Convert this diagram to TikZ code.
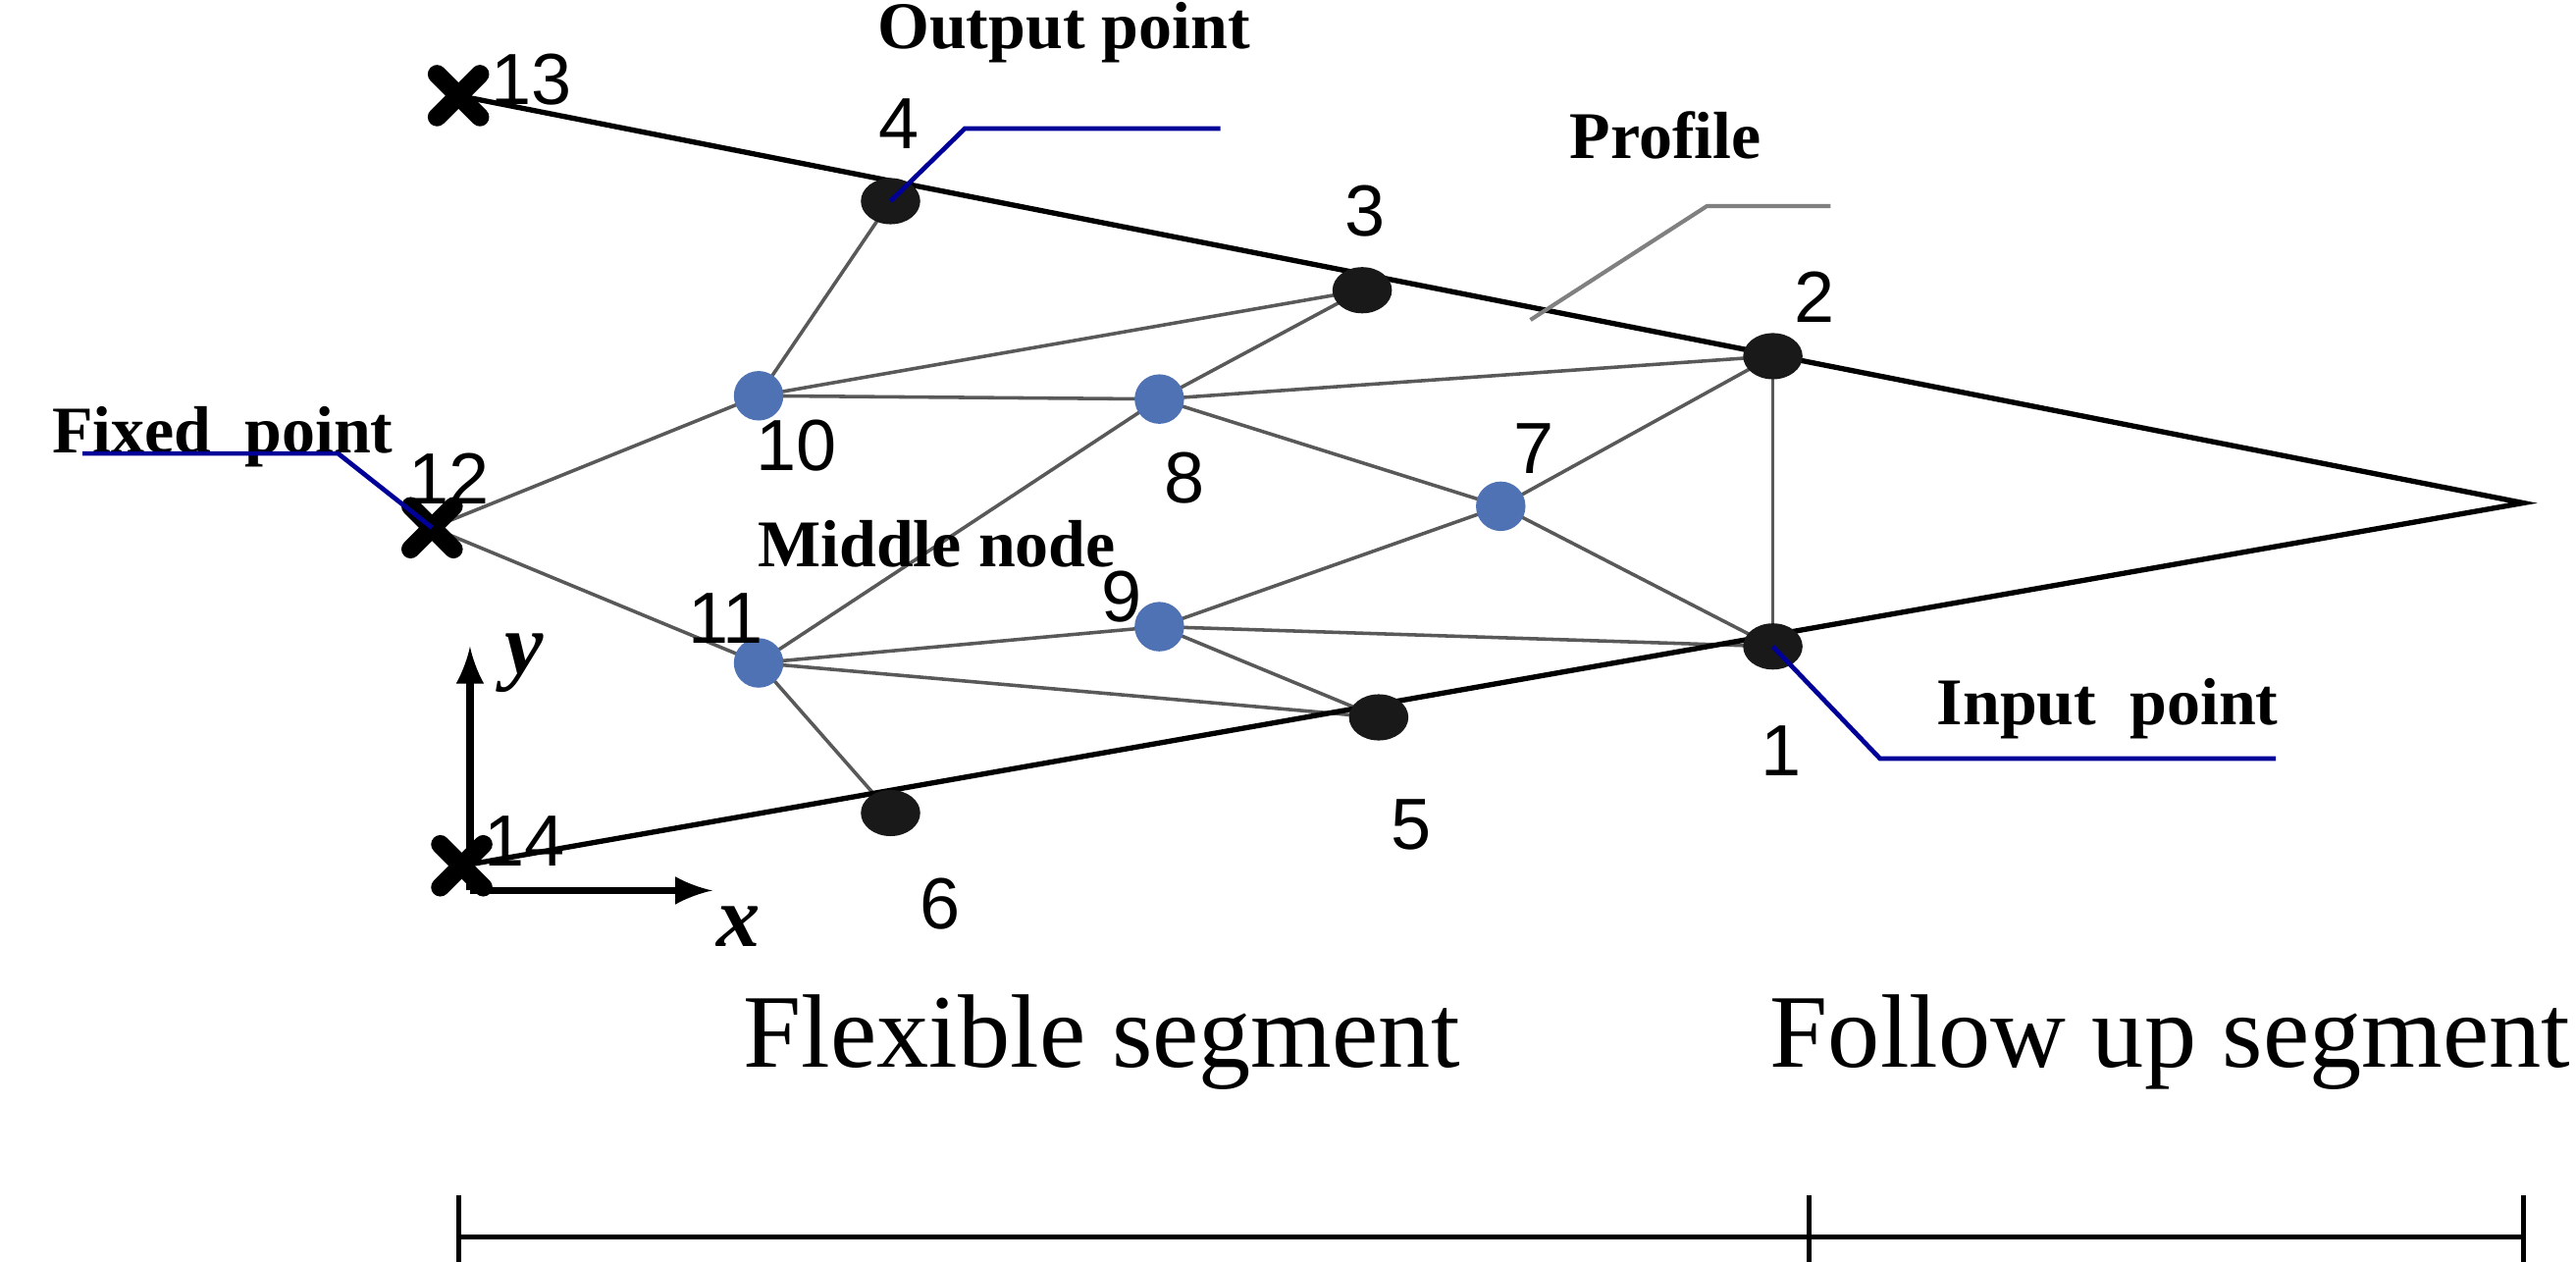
\documentclass[tikz,border=0pt]{standalone}
\usetikzlibrary{shapes.geometric}
\usepackage{fontspec}
\setmainfont{Liberation Serif}
\newfontfamily\numf{Liberation Sans}
\begin{document}
\begin{tikzpicture}[x=0.01cm,y=-0.01cm,
  blk/.style={ellipse,fill=black!90,inner sep=0pt,minimum width=0.36cm,minimum height=0.28cm},
  num/.style={font=\numf\fontsize{12.5}{13}\selectfont},
  lab/.style={font=\fontsize{11.5}{12}\selectfont\bfseries},
  big/.style={font=\fontsize{18}{18}\selectfont},
  mem/.style={gray!70!black,line width=0.6pt},
  xm/.style={line width=3.2pt,line cap=round},
  call/.style={blue!60!black,line width=0.8pt}]
\useasboundingbox (0,0) rectangle (1562,765);
\definecolor{nb}{RGB}{79,114,181}
\tikzset{blu/.style={circle,fill=nb,inner sep=0pt,minimum size=0.3cm}}
\coordinate (p13) at (278,58);
\coordinate (p14) at (280,525);
\coordinate (p12) at (262,320);
\coordinate (tip) at (1530,305);
\coordinate (n4) at (540,122);
\coordinate (n3) at (826,176);
\coordinate (n2) at (1075,216);
\coordinate (n1) at (1075,392);
\coordinate (n5) at (836,435);
\coordinate (n6) at (540,493);
\coordinate (n10) at (460,240);
\coordinate (n8) at (703,242);
\coordinate (n7) at (910,307);
\coordinate (n9) at (703,380);
\coordinate (n11) at (460,402);
% members
\foreach \a/\b in {p12/n10,p12/n11,n10/n4,n10/n3,n10/n8,n8/n3,n8/n2,n8/n7,n8/n11,n7/n2,n7/n1,n9/n7,n9/n1,n9/n11,n9/n5,n11/n5,n11/n6,n2/n1}
  \draw[mem] (\a) -- (\b);
\draw[line width=0.9pt] (p13) -- (tip) -- (p14);
% nodes
\foreach \n in {n4,n3,n2,n1,n5,n6} \node[blk] (b\n) at (\n) {};
\foreach \n in {n10,n8,n7,n9,n11} \node[blu] (b\n) at (\n) {};
\foreach \p in {p13,p12,p14} {
  \draw[xm] ([shift={(-13,-13)}]\p) -- ([shift={(13,13)}]\p);
  \draw[xm] ([shift={(-13,13)}]\p) -- ([shift={(13,-13)}]\p);
}
% numbers
\node[num] (l13) at (322,48) {13};
\node[num] (l14) at (318,510) {14};
\node[num] (l12) at (272,290) {12};
\node[num] (l4) at (545,75) {4};
\node[num] (l3) at (828,128) {3};
\node[num] (l2) at (1100,180) {2};
\node[num] (l1) at (1080,455) {1};
\node[num] (l5) at (856,500) {5};
\node[num] (l6) at (570,548) {6};
\node[num] (l7) at (930,272) {7};
\node[num] (l8) at (718,290) {8};
\node[num] (l9) at (680,362) {9};
\node[num] (l10) at (483,270) {10};
\node[num] (l11) at (440,375) {11};
% axes
\coordinate (o) at (285,540);
\coordinate (ye) at (285,392);
\coordinate (xe) at (432,540);
\draw[line width=1.2pt,-latex] (o) -- (ye);
\draw[line width=1.2pt,-latex] (o) -- (xe);
\node[font=\fontsize{15}{15}\selectfont\bfseries\itshape] (ly) at (318,402) {y};
\node[font=\fontsize{15}{15}\selectfont\bfseries\itshape] (lx) at (448,562) {x};
% callouts
\node[lab] (tout) at (645,20) {Output point};
\node[lab] (tprof) at (1010,82) {Profile};
\node[lab] (tfix) at (135,265) {Fixed\ \ point};
\node[lab] (tmid) at (568,330) {Middle node};
\node[lab] (tin) at (1278,430) {Input\ \ point};
\coordinate (c1) at (585,78); \coordinate (c1e) at (740,78);
\draw[call] (n4) -- (c1) -- (c1e);
\coordinate (c2s) at (928,194); \coordinate (c2) at (1035,125); \coordinate (c2e) at (1110,125);
\draw[gray,line width=0.7pt] (c2s) -- (c2) -- (c2e);
\coordinate (c3s) at (50,275); \coordinate (c3) at (205,275);
\draw[call] (c3s) -- (c3) -- (p12);
\coordinate (c4) at (1140,460); \coordinate (c4e) at (1380,460);
\draw[call] (n1) -- (c4) -- (c4e);
% bottom
\node[big] (flex) at (668,632) {Flexible segment};
\node[big] (fol) at (1316,632) {Follow up segment};
\coordinate (s0) at (278,750); \coordinate (s1) at (1097,750); \coordinate (s2) at (1530,750);
\draw[line width=0.8pt] (s0) -- (s2);
\foreach \s in {s0,s1,s2} \draw[line width=0.8pt] ([yshift=0.25cm]\s) -- ([yshift=-0.25cm]\s);
\end{tikzpicture}
\end{document}
